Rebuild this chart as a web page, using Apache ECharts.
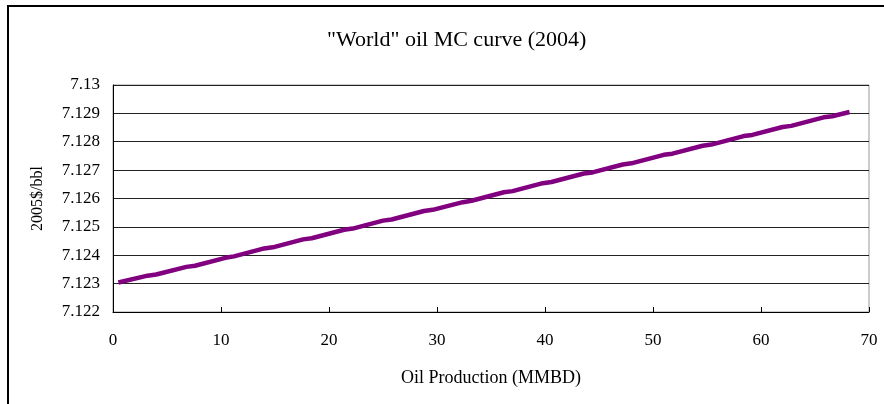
<!DOCTYPE html>
<html>
<head>
<meta charset="utf-8">
<script src="https://cdn.jsdelivr.net/npm/echarts@6/dist/echarts.min.js"></script>
<style>
  html, body { margin: 0; padding: 0; background: #fff; }
  #frame { position: absolute; left: 7px; top: 5px; width: 900px; height: 420px; border-left: 2px solid #000; border-top: 2px solid #000; }
  #main { position: absolute; left: 0; top: 0; width: 884px; height: 404px; }
</style>
</head>
<body>
<div id="frame"></div>
<div id="main"></div>
<script>
// 产量 (MMBD)
var production = [0.5, 3.2, 4.0, 6.8, 7.6, 10.4, 11.2, 14.0, 14.8, 17.6, 18.4, 21.4, 22.2, 25.0, 25.8,
    28.8, 29.6, 32.4, 33.2, 36.2, 37.0, 39.8, 40.6, 43.6, 44.4, 47.2, 48.0, 51.0, 51.8,
    54.6, 55.4, 58.4, 59.2, 62.0, 62.8, 65.8, 66.6, 68.2];
// 边际成本 (2005$/bbl)
var cost = [7.12304, 7.12328, 7.12332, 7.12359, 7.12363, 7.12391, 7.12396, 7.12424, 7.12428, 7.12456,
    7.12460, 7.12490, 7.12494, 7.12522, 7.12526, 7.12556, 7.12560, 7.12587, 7.12592, 7.12622,
    7.12626, 7.12654, 7.12658, 7.12688, 7.12692, 7.12720, 7.12724, 7.12754, 7.12758, 7.12786,
    7.12790, 7.12820, 7.12824, 7.12852, 7.12856, 7.12886, 7.12890, 7.12905];

(function(){
    var font = 'Liberation Serif'
    var myChart = echarts.init(document.getElementById('main'))
    var points = production.map(function(x, i){ return [x, cost[i]] })
    var option = {
        animation: false,
        title: {
            text: '"World" oil MC curve (2004)',
            left: 322,     //标题略偏右
            top: 24,
            textStyle: { fontFamily: font, fontSize: 22, fontWeight: 'normal', color: '#000' }
        },
        grid: {
            left: 113,
            right: 15,
            top: 85,
            bottom: 92,
            show: true,
            borderColor: '#999',   //右边框灰色
            borderWidth: 1
        },
        xAxis: {
            type: 'value',
            min: 0,
            max: 70,
            interval: 10,
            name: 'Oil Production (MMBD)',
            nameLocation: 'middle',
            nameGap: 57,
            nameTextStyle: { fontFamily: font, fontSize: 18, color: '#000' },
            axisLine: { lineStyle: { color: '#000', width: 1 } },
            axisTick: { inside: true, length: 5, lineStyle: { color: '#000' } },
            axisLabel: { fontFamily: font, fontSize: 17, color: '#000', margin: 20 },
            splitLine: { show: false }
        },
        yAxis: {
            type: 'value',
            min: 7.122,
            max: 7.13,
            interval: 0.001,
            name: '2005$/bbl',
            nameLocation: 'middle',
            nameGap: 67,
            nameTextStyle: { fontFamily: font, fontSize: 16, color: '#000' },
            axisLine: { show: true, lineStyle: { color: '#000', width: 1 } },
            axisTick: { show: false },
            axisLabel: {
                fontFamily: font, fontSize: 17, color: '#000', margin: 13,
                formatter: function(v){ return +v.toFixed(3) + '' }
            },
            splitLine: { lineStyle: { color: '#222', width: 1 } }
        },
        series: [
            {
                type: 'line',
                data: points,
                symbol: 'none',
                lineStyle: { color: '#800080', width: 4.5 }
            }
        ]
    };
    myChart.setOption(option)
})();
</script>
</body>
</html>
